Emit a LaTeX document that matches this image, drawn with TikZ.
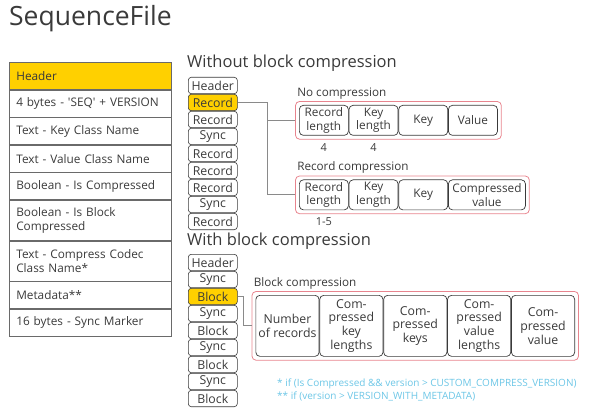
\documentclass[tikz,border=0pt]{standalone}
\usepackage{fontspec}
\setmainfont{Open Sans}
\usepackage{tikz}
\usetikzlibrary{positioning,fit}
\definecolor{sfyellow}{HTML}{FFD000}
\definecolor{sfpink}{HTML}{E8848E}
\definecolor{sfink}{HTML}{3A3A3A}
\definecolor{sfgrid}{HTML}{6A6A6A}
\definecolor{sfline}{HTML}{8A8A8A}
\definecolor{sfnote}{HTML}{6CC6E6}

\begin{document}
\begin{tikzpicture}[
  x=1pt, y=-1pt,
  font=\fontsize{11.8}{14}\selectfont, text=sfink,
  row/.style={draw=sfgrid, line width=0.6pt, text width=148pt, align=left, minimum height=27pt, inner xsep=7pt, inner ysep=2pt},
  tall/.style={row, minimum height=40pt},
  slot/.style={draw=sfink, rounded corners=3pt, line width=0.6pt, minimum width=49pt, minimum height=16.4pt, inner sep=0pt, font=\fontsize{12.3}{14}\selectfont},
  hot/.style={fill=sfyellow},
  field/.style={draw=sfink, rounded corners=4pt, line width=0.7pt, align=center, inner sep=1pt, minimum width=49pt, minimum height=30pt, font=\fontsize{11.8}{13.5}\selectfont},
  bigfield/.style={field, minimum width=63.2pt, minimum height=61pt, font=\fontsize{12.3}{13.8}\selectfont},
  wrap/.style={draw=sfpink, rounded corners=4pt, line width=0.8pt, inner sep=3.5pt},
  head/.style={anchor=west, inner sep=0pt, font=\fontsize{16.5}{19}\selectfont},
  tag/.style={anchor=south west, inner sep=1pt, font=\fontsize{11.7}{13}\selectfont},
  size/.style={anchor=north, inner sep=0pt, font=\fontsize{11}{12}\selectfont},
  note/.style={anchor=west, inner sep=0pt, text=sfnote, font=\fontsize{10}{12}\selectfont},
  link/.style={draw=sfline, line width=0.8pt}]
  \useasboundingbox (0,0) rectangle (591,414);
  \node[anchor=north west, inner sep=0pt, font=\fontsize{26.5}{30}\selectfont] (title) at (9,5) {SequenceFile};

  % header layout
  \node[row, hot, anchor=north west] (hdr) at (9,62) {Header};
  \node[row, below=0pt of hdr] (magic) {4 bytes - \textquotesingle SEQ\textquotesingle{} + VERSION};
  \node[row, below=0pt of magic] (keycls) {Text - Key Class Name};
  \node[row, below=0pt of keycls] (valcls) {Text - Value Class Name};
  \node[row, below=0pt of valcls] (iscomp) {Boolean - Is Compressed};
  \node[tall, below=0pt of iscomp] (isblock) {Boolean - Is Block\\Compressed};
  \node[tall, below=0pt of isblock] (codec) {Text - Compress Codec\\Class Name*};
  \node[row, below=0pt of codec] (meta) {Metadata**};
  \node[row, below=0pt of meta] (sync) {16 bytes - Sync Marker};

  % without block compression
  \node[head] (whead) at (187,63) {Without block compression};
  \node[slot, anchor=north west] (w1) at (188,77) {Header};
  \node[slot, hot, below=0pt of w1] (w2) {Record};
  \node[slot, below=0pt of w2] (w3) {Record};
  \node[slot, below=0pt of w3] (w4) {Sync};
  \node[slot, below=0pt of w4] (w5) {Record};
  \node[slot, below=0pt of w5] (w6) {Record};
  \node[slot, below=0pt of w6] (w7) {Record};
  \node[slot, below=0pt of w7] (w8) {Sync};
  \node[slot, below=0pt of w8] (w9) {Record};

  \node[field, anchor=north west] (nc1) at (299,105) {Record\\length};
  \node[field, right=0pt of nc1] (nc2) {Key\\length};
  \node[field, right=0pt of nc2] (nc3) {Key};
  \node[field, right=0pt of nc3] (nc4) {Value};
  \node[wrap, fit=(nc1)(nc4)] (ncbox) {};
  \node[tag] at ([xshift=1pt,yshift=1pt]ncbox.north west) {No compression};
  \node[size] at ([yshift=-7.5pt]nc1.south) {4};
  \node[size] at ([yshift=-7.5pt]nc2.south) {4};

  \node[field, anchor=north west] (rc1) at (299,179.5) {Record\\length};
  \node[field, right=0pt of rc1] (rc2) {Key\\length};
  \node[field, right=0pt of rc2] (rc3) {Key};
  \node[field, right=0pt of rc3, minimum width=77pt] (rc4) {Compressed\\value};
  \node[wrap, fit=(rc1)(rc4)] (rcbox) {};
  \node[tag] at ([xshift=1pt,yshift=1pt]rcbox.north west) {Record compression};
  \node[size] at ([yshift=-7.5pt]rc1.south) {1-5};

  \coordinate (split) at (267,0 |- w2.east);
  \draw[link] (w2.east) -- (split) |- (ncbox.west);
  \draw[link] (split) |- (rcbox.west);

  % with block compression
  \node[head] (bhead) at (187,241) {With block compression};
  \node[slot, anchor=north west] (b1) at (188,254) {Header};
  \node[slot, below=0pt of b1] (b2) {Sync};
  \node[slot, hot, below=0pt of b2] (b3) {Block};
  \node[slot, below=0pt of b3] (b4) {Sync};
  \node[slot, below=0pt of b4] (b5) {Block};
  \node[slot, below=0pt of b5] (b6) {Sync};
  \node[slot, below=0pt of b6] (b7) {Block};
  \node[slot, below=0pt of b7] (b8) {Sync};
  \node[slot, below=0pt of b8] (b9) {Block};

  \node[bigfield, anchor=north west] (bc1) at (255.5,295) {Number\\of records};
  \node[bigfield, right=0pt of bc1] (bc2) {Com-\\pressed\\key\\lengths};
  \node[bigfield, right=0pt of bc2] (bc3) {Com-\\pressed\\keys};
  \node[bigfield, right=0pt of bc3] (bc4) {Com-\\pressed\\value\\lengths};
  \node[bigfield, right=0pt of bc4] (bc5) {Com-\\pressed\\value};
  \node[wrap, fit=(bc1)(bc5)] (bcbox) {};
  \node[tag] at ([xshift=1pt,yshift=1pt]bcbox.north west) {Block compression};
  \draw[link] (b3.east) -- ++(6,0) |- (bcbox.west);

  \node[note] (note1) at (277,384) {* if (Is Compressed \&\& version > CUSTOM\_COMPRESS\_VERSION)};
  \node[note, below=2.5pt of note1.south west, anchor=north west] (note2) {** if (version > VERSION\_WITH\_METADATA)};
\end{tikzpicture}
\end{document}
